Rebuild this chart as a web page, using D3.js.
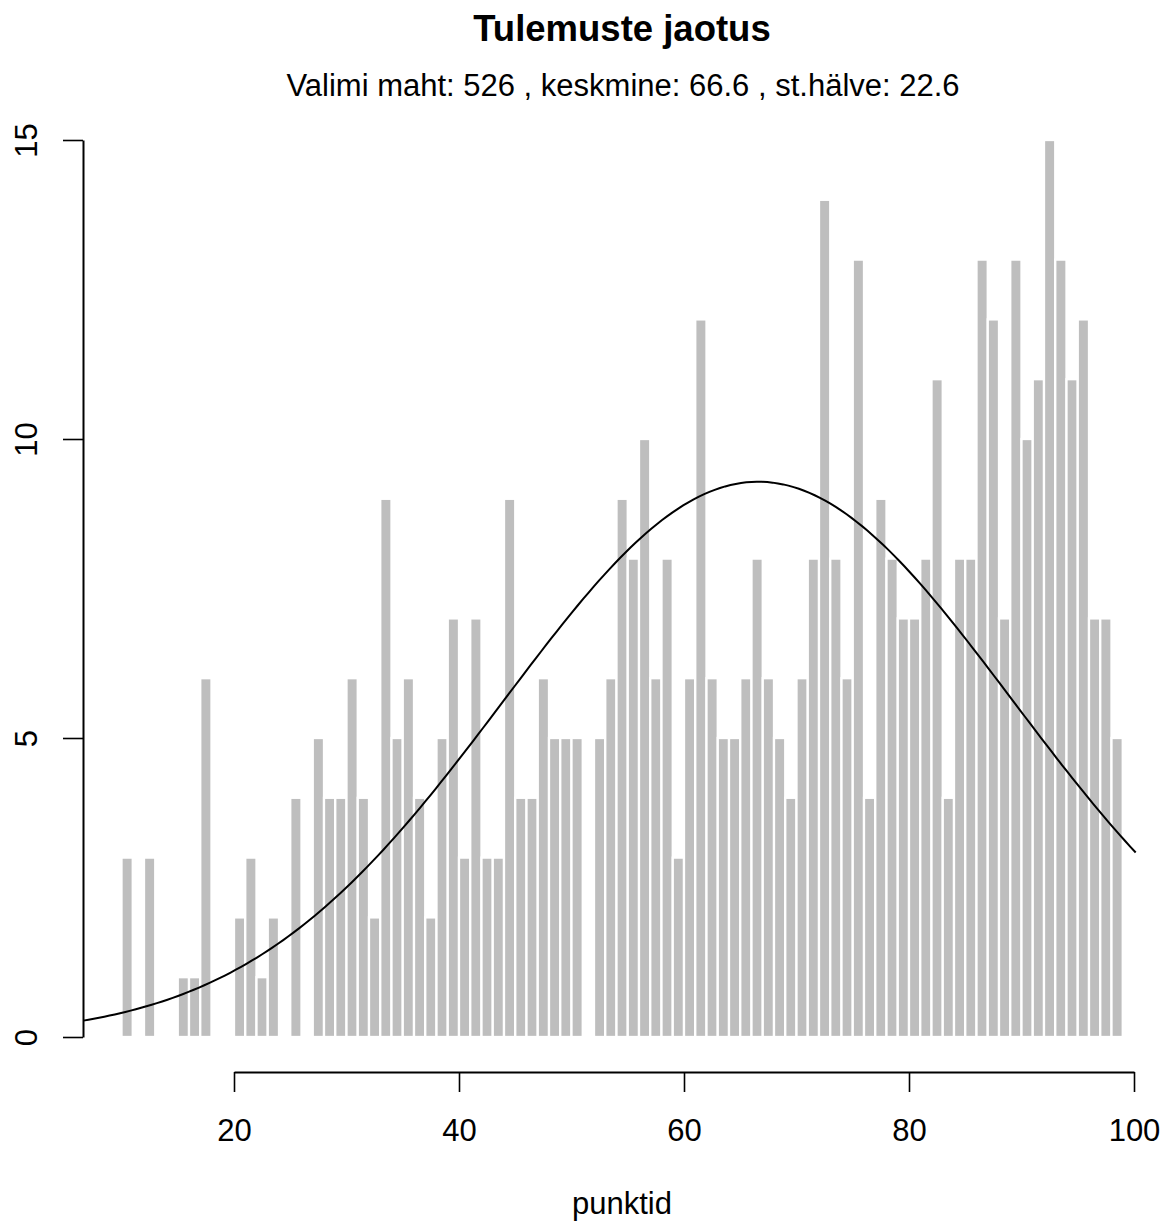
<!DOCTYPE html>
<html>
<head>
<meta charset="utf-8">
<script src="https://cdn.jsdelivr.net/npm/d3@7"></script>
<style>
  body { margin: 0; background: #fff; }
  text { font-family: "Liberation Sans", Arial, Helvetica, sans-serif; }
</style>
</head>
<body>
<div id="chart"></div>
<script>
"use strict";

// histogram bins: left edge of each 1-point bin and its count
var binStart = [10, 12, 15, 16, 17, 20, 21, 22, 23, 25, 27, 28, 29, 30, 31, 32, 33, 34, 35, 36,
                37, 38, 39, 40, 41, 42, 43, 44, 45, 46, 47, 48, 49, 50, 52, 53, 54, 55, 56, 57,
                58, 59, 60, 61, 62, 63, 64, 65, 66, 67, 68, 69, 70, 71, 72, 73, 74, 75, 76, 77,
                78, 79, 80, 81, 82, 83, 84, 85, 86, 87, 88, 89, 90, 91, 92, 93, 94, 95, 96, 97, 98];
var binCount = [3, 3, 1, 1, 6, 2, 3, 1, 2, 4, 5, 4, 4, 6, 4, 2, 9, 5, 6, 4,
                2, 5, 7, 3, 7, 3, 3, 9, 4, 4, 6, 5, 5, 5, 5, 6, 9, 8, 10, 6,
                8, 3, 6, 12, 6, 5, 5, 6, 8, 6, 5, 4, 6, 8, 14, 8, 6, 13, 4, 9,
                8, 7, 7, 8, 11, 4, 8, 8, 13, 12, 7, 13, 10, 11, 15, 13, 11, 12, 7, 7, 5];

// summary numbers shown in the subtitle (used for the normal curve)
var sampleSize = 526;
var sampleMean = 66.6;
var sampleSd = 22.6;
var curveFrom = 6.6, curveTo = 100.15;

var xTicks = [20, 40, 60, 80, 100];
var yTicks = [0, 5, 10, 15];

var titleText = "Tulemuste jaotus";
var subText = "Valimi maht: " + sampleSize + " , keskmine: " + sampleMean + " , st.hälve: " + sampleSd;
var xLabel = "punktid";

var W = 1168, H = 1222;
var fontSize = 31;

var x = d3.scaleLinear().domain([20, 100]).range([234, 1134]);
var y = d3.scaleLinear().domain([0, 15]).range([1037, 140]);

var svg = d3.select("#chart").append("svg")
  .attr("width", W)
  .attr("height", H);

// bars
var bins = binStart.map(function(b, i) { return { x0: b, x1: b + 1, n: binCount[i] }; });

svg.append("g").selectAll("rect")
  .data(bins)
  .join("rect")
    .attr("x", d => x(d.x0))
    .attr("width", d => x(d.x1) - x(d.x0))
    .attr("y", d => y(d.n))
    .attr("height", d => y(0) - y(d.n))
    .attr("fill", "#bebebe")
    .attr("stroke", "#fff")
    .attr("stroke-width", 2.3);

// normal curve scaled to the counts
var dens = function(v) {
  var z = (v - sampleMean) / sampleSd;
  return sampleSize * Math.exp(-0.5 * z * z) / (sampleSd * Math.sqrt(2 * Math.PI));
};
var curvePts = d3.range(0, 201).map(function(i) {
  var v = curveFrom + (curveTo - curveFrom) * i / 200;
  return [v, dens(v)];
});

svg.append("path")
  .datum(curvePts)
  .attr("fill", "none")
  .attr("stroke", "#000")
  .attr("stroke-width", 2)
  .attr("d", d3.line().x(d => x(d[0])).y(d => y(d[1])));

// x axis
var xAxis = svg.append("g")
  .attr("transform", "translate(0,1072)")
  .call(d3.axisBottom(x).tickValues(xTicks).tickSize(20).tickSizeOuter(0).tickPadding(27));
xAxis.select(".domain").attr("stroke-width", 2);
xAxis.selectAll(".tick line").attr("stroke-width", 1.6);
xAxis.selectAll(".tick text")
  .attr("font-size", fontSize + "px")
  .attr("font-family", "Liberation Sans, Arial, sans-serif")
  .attr("fill", "#000");

// y axis with labels turned like R does
var yAxis = svg.append("g")
  .attr("transform", "translate(83,0)")
  .call(d3.axisLeft(y).tickValues(yTicks).tickSize(20).tickSizeOuter(0));
yAxis.select(".domain").attr("stroke-width", 2);
yAxis.selectAll(".tick line").attr("stroke-width", 1.6);
yAxis.selectAll(".tick text")
  .attr("x", 0)
  .attr("y", -46)
  .attr("dy", 0)
  .attr("transform", "rotate(-90)")
  .attr("text-anchor", "middle")
  .attr("font-size", fontSize + "px")
  .attr("font-family", "Liberation Sans, Arial, sans-serif")
  .attr("fill", "#000");

// titles
svg.append("text")
  .attr("x", 622)
  .attr("y", 41)
  .attr("text-anchor", "middle")
  .attr("font-size", "36.5px")
  .attr("font-weight", "bold")
  .text(titleText);

svg.append("text")
  .attr("x", 623)
  .attr("y", 96)
  .attr("text-anchor", "middle")
  .attr("font-size", fontSize + "px")
  .text(subText);

svg.append("text")
  .attr("x", 622)
  .attr("y", 1214)
  .attr("text-anchor", "middle")
  .attr("font-size", fontSize + "px")
  .text(xLabel);
</script>
</body>
</html>
